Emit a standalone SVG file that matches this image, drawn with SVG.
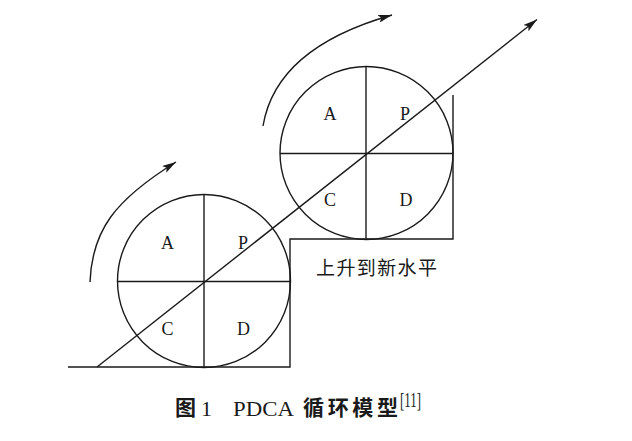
<svg xmlns="http://www.w3.org/2000/svg" width="632" height="441" viewBox="0 0 632 441">
<defs>
<marker id="ah" viewBox="0 0 14 8" refX="14" refY="4" markerWidth="14" markerHeight="8" markerUnits="userSpaceOnUse" orient="auto">
<path d="M0,0 L14,4 L0,8 L3,4 z" fill="#1a1a1a"/>
</marker>
<style>
.ln{fill:none;stroke:#1a1a1a;stroke-width:1.4}
.lb{font-family:"Liberation Serif",serif;font-size:18px;fill:#1a1a1a;text-anchor:middle}
.cn{font-family:"Noto Sans CJK SC",sans-serif;font-size:19px;fill:#1a1a1a}
.cap{font-family:"Noto Sans CJK SC",sans-serif;font-size:21px;font-weight:bold;fill:#1a1a1a}
.capl{font-family:"Liberation Serif",serif;font-size:22px;fill:#1a1a1a}
</style>
</defs>
<rect width="632" height="441" fill="#ffffff"/>
<g id="steps">
<path class="ln" d="M68,367 H290 V239 H453 V95"/>
</g>
<g id="cycle1">
<circle class="ln" cx="204" cy="281" r="86.5"/>
<line class="ln" x1="117.5" y1="281.5" x2="290.5" y2="281.5"/>
<line class="ln" x1="204" y1="194.5" x2="204" y2="367.5"/>
<text class="lb" x="167.5" y="249">A</text>
<text class="lb" x="243" y="249">P</text>
<text class="lb" x="167.5" y="335">C</text>
<text class="lb" x="243.5" y="335">D</text>
</g>
<g id="cycle2">
<circle class="ln" cx="366.5" cy="153" r="86.5"/>
<line class="ln" x1="280" y1="153.5" x2="453" y2="153.5"/>
<line class="ln" x1="366" y1="66.5" x2="366" y2="239.5"/>
<text class="lb" x="330" y="119.5">A</text>
<text class="lb" x="405" y="119.5">P</text>
<text class="lb" x="330" y="205.5">C</text>
<text class="lb" x="406" y="205.5">D</text>
</g>
<g id="connectors">
<line class="ln" x1="97" y1="367" x2="537" y2="19.5" marker-end="url(#ah)"/>
<path class="ln" d="M90,282 C92,230 115,200 176,162" marker-end="url(#ah)"/>
<path class="ln" d="M263,126 C272,72 318,36 392,15" marker-end="url(#ah)"/>
</g>
<g id="label">
<text class="cn" x="316" y="275" textLength="121" lengthAdjust="spacing">上升到新水平</text>
</g>
<g id="caption">
<text class="cap" x="175" y="415">图</text>
<text class="capl" x="201" y="416">1</text>
<text class="capl" x="233" y="416" textLength="61" lengthAdjust="spacingAndGlyphs">PDCA</text>
<text class="cap" x="303" y="415" textLength="95" lengthAdjust="spacing">循环模型</text>
<text class="capl" x="400" y="407" font-size="12" textLength="21" lengthAdjust="spacingAndGlyphs">[11]</text>
</g>
</svg>
